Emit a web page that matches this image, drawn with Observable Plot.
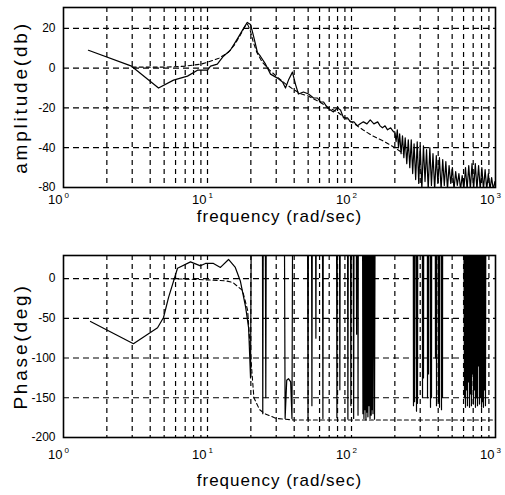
<!DOCTYPE html>
<html><head><meta charset="utf-8">
<script src="https://cdn.jsdelivr.net/npm/d3@7"></script>
<script src="https://cdn.jsdelivr.net/npm/@observablehq/plot@0.6"></script>
<style>
body{margin:0;background:#fff;}
#chart svg{display:block;}
</style></head><body><div id="chart"></div>
<script>
// ---------- axes / tick data ----------
const xTickValues = [1, 10, 100, 1000];
const xTickExponents = ["0", "1", "2", "3"];
const gridFreqs = [2,3,4,5,6,7,8,9,10,20,30,40,50,60,70,80,90,100,200,300,400,500,600,700,800,900];
const ampTicks = [20, 0, -20, -40, -60];
const ampTickLabels = ["20", "0", "-20", "-40", "-80"];
const phaseTicks = [0, -50, -100, -150, -200];
const phaseTickLabels = ["0", "-50", "-100", "-150", "-200"];
const xTitle = "frequency (rad/sec)";
const ampTitle = "amplitude(db)";
const phaseTitle = "Phase(deg)";

// ---------- amplitude: measured (solid) ----------
const ampMeasured = [
  [1.49,9],[2.97,1],[4.57,-10],[5.81,-6],[7.26,-4],[8.52,-1],[10,-1],[10.5,1],[11.7,2],[12.9,6],
  [14.4,9],[16.2,15],[17.8,20],[18.9,23],[19.9,22],[20.9,16],[22.2,8],[23.3,6],[25.3,2],[27.4,-3],
  [30.6,-5],[33.2,-7],[34.8,-10],[36.5,-6],[38.9,-2],[40.8,-8],[42.8,-13],[46.4,-12],[50.3,-13],
  [54.5,-15],[58,-15],[60.9,-17],[64,-17],[68.1,-20],[75,-22],[80,-20],[83.9,-21],[88,-25],[93.8,-25],
  [98.4,-27],[104,-27],[110,-29],[115,-28],[121,-27],[128,-28],[135,-26],[143,-28],[152,-27],[158,-29],
  [164,-30],[171,-29],[178,-31],[187,-30],[196,-32],
  [200,-32],[204,-37],[208,-31],[212,-40],[216,-33],[221,-43],[226,-34],[231,-45],[236,-35],[242,-48],
  [248,-36],[254,-50],[260,-36],[266,-53],[272,-38],[279,-56],[286,-37],[293,-58],[300,-39],[308,-61],
  [316,-39],[324,-57],[332,-41],[341,-61],[350,-40],[359,-59],[368,-43],[378,-61],[388,-44],[398,-58],
  [408,-45],[419,-61],[430,-46],[441,-59],[452,-47],[464,-61],[476,-49],[489,-58],[502,-50],[515,-61],
  [529,-52],[543,-59],[557,-53],[572,-61],[587,-54],[603,-61],[619,-50],[635,-61],[652,-49],[669,-61],
  [687,-48],[705,-61],[724,-48],[743,-61],[763,-49],[783,-61],[804,-50],[825,-61],[847,-51],[869,-61],
  [892,-53],[916,-61],[940,-55],[965,-61],[990,-57],[1000,-59]
];
// ---------- amplitude: model (dashed) ----------
const ampModel = [
  [3,0.5],[5,0.5],[7,1],[9,2],[10,3],[12,5],[14,8],[15.5,12],[17,17],[18.2,21],[19,22],[19.8,19],
  [20.8,13],[22,8],[24,3],[27,-1],[30,-4],[35,-8],[40,-11],[45,-13],[50,-14],[60,-17],[70,-20],
  [80,-22],[90,-25],[100,-27],[120,-31],[140,-34],[170,-37],[200,-40],[230,-43]
];

// ---------- phase: measured (solid, wrapped; 200 = above the frame) ----------
const phaseMeasured = [
  [1.54,-54],[3.06,-82],[4.5,-62],[4.95,-49],[5.36,-24],[6.19,13],[7.62,21],[8.94,16],[9.68,19],
  [11.0,19],[12.3,14],[14.0,24],[15.6,14],[16.9,-3],[18.4,-36],[19.3,-62],[19.9,-125],[20.3,200],
  [24.0,200],[24.2,-170],[24.5,200],[25.1,200],[25.4,-150],[25.7,200],
  [34.0,200],[34.6,-176],[35.5,-128],[36.5,-126],[37.8,-130],[38.6,-176],[39.2,200],
  [49.3,200],[49.9,-177],[50.4,200],[52.6,200],[53.1,-160],[53.6,200],[56.0,200],[56.6,-75],[57.1,200],
  [62.6,200],[63.3,-176],[63.9,200],[78.5,200],[79.2,-175],[80.0,200],[82.3,200],[83.0,-140],[83.8,200],
  [93.5,200],[94.4,-177],[95.3,200],[98.0,200],[99.0,-160],[100,200],[102.5,200],[103.5,-176],[104.5,200],
  [107.5,200],[108.5,-70],[109.5,200],[110.5,200],[111,-172],[111.8,200],
  [119,200],[120,-170],[121,200],[122,-176],[123,200],[124,-165],[125,200],[126,-178],[127,200],
  [128,-168],[129,200],[130,-174],[131.5,200],[132.5,-160],[133.5,200],[134.5,-176],[135.5,200],
  [137,-172],[138,200],[139,-165],[140,200],[141,-170],[142,200],[144.5,-177],[146.5,200],
  [268,200],[269.5,-160],[271,200],[273,200],[274,-155],[275.5,200],[280,200],[282.8,-167],[285,200],
  [286,200],[287.3,-157],[289,200],[310,200],[311.3,-150],[313,200],[315,200],[316.2,-125],[318,200],
  [336,200],[337.2,-150],[339,200],[341,200],[342.6,-120],[344,200],[352,200],[353.8,-162],[356,200],
  [358,200],[359.4,-150],[361,200],[381,200],[383,-100],[385,200],[388,200],[389.3,-160],[391,200],
  [400,200],[402,-155],[404,200],[407,200],[408.4,-162],[410,200],[420,200],[421.7,-165],[423,200],
  [427,200],[428.5,-150],[430,200],
  [600,200],[609,-150],[615,200],[619,-162],[624,200],[629,-140],[634,200],[639,-160],[644,200],
  [649,-130],[654,200],[660,-162],[665,200],[670,-145],[676,200],[681,-160],[687,200],[692,-120],
  [698,200],[703,-158],[709,200],[715,-140],[720,200],[726,-162],[732,200],[738,-150],[744,200],
  [750,-160],[756,200],[762,-110],[768,200],[774,-158],[780,200],[787,-150],[793,200],[800,-162],
  [806,200],[812,-155],[819,200],[825,-162],[832,200],[839,-140],[845,200],[852,-160],[859,200],[1000,200]
];
// ---------- phase: model (dashed) ----------
const phaseModel = [
  [5,0],[8,-1],[11,-2],[13.5,-3],[15,-5],[17.5,-15],[19,-40],[20,-100],[21,-150],[23,-165],
  [25,-170],[30,-176],[40,-178],[1000,-178]
];

function panel(o) {
  const meas = o.meas.map(([f, v]) => ({f, v}));
  const mod = o.mod.map(([f, v]) => ({f, v}));
  const svg = Plot.plot({
    width: 505, height: o.height,
    marginTop: o.mt, marginBottom: o.mb, marginLeft: 63, marginRight: 10,
    x: {type: "log", domain: [1, 1000], axis: null},
    y: {domain: o.yDomain, axis: null},
    style: {fontFamily: "'Liberation Sans', Arial, sans-serif", color: "black", background: "white"},
    marks: [
      Plot.ruleX(gridFreqs, {x: d => d, stroke: "black", strokeWidth: 1.2, strokeDasharray: "5,4"}),
      Plot.ruleY(o.yTicks, {y: d => d, stroke: "black", strokeWidth: 1.2, strokeDasharray: "6,4"}),
      Plot.line(mod, {x: "f", y: "v", stroke: "black", strokeWidth: 1.1, strokeDasharray: "4,3", clip: true}),
      Plot.line(meas, {x: "f", y: "v", stroke: "black", strokeWidth: 1.2, clip: true}),
      Plot.frame({stroke: "black", strokeWidth: 1.6}),
      Plot.text(o.yTicks, {y: d => d, frameAnchor: "left", dx: -8, textAnchor: "end", fontSize: 12,
        text: (d, i) => o.yLabels[i]}),
      Plot.text(xTickValues, {x: d => d, frameAnchor: "bottom", dy: o.tickDy, dx: -1, textAnchor: "end",
        fontSize: 13, text: () => "10"}),
      Plot.text(xTickValues, {x: d => d, frameAnchor: "bottom", dy: o.tickDy - 6, dx: 1, textAnchor: "start",
        fontSize: 8, text: (d, i) => xTickExponents[i]}),
      Plot.text([o.yTitle], {frameAnchor: "left", dx: -43, rotate: -90, textAnchor: "middle",
        fontSize: 19, text: d => d}),
      Plot.text([xTitle], {frameAnchor: "bottom", dy: o.titleDy, textAnchor: "middle", fontSize: 17, text: d => d})
    ]
  });
  d3.select(svg).selectAll("text").filter(function () { return this.textContent === o.yTitle; })
    .attr("letter-spacing", "2.8px");
  d3.select(svg).selectAll("text").filter(function () { return this.textContent === xTitle; })
    .attr("letter-spacing", "1px");
  return svg;
}

const chart = document.getElementById("chart");
chart.append(panel({
  meas: ampMeasured, mod: ampModel, yDomain: [-60, 30.5], yTicks: ampTicks, yLabels: ampTickLabels,
  yTitle: ampTitle, height: 247, mt: 7, mb: 60, tickDy: 16, titleDy: 34
}));
chart.append(panel({
  meas: phaseMeasured, mod: phaseModel, yDomain: [-200, 29], yTicks: phaseTicks, yLabels: phaseTickLabels,
  yTitle: phaseTitle, height: 248, mt: 8, mb: 58, tickDy: 21, titleDy: 48
}));
</script></body></html>
